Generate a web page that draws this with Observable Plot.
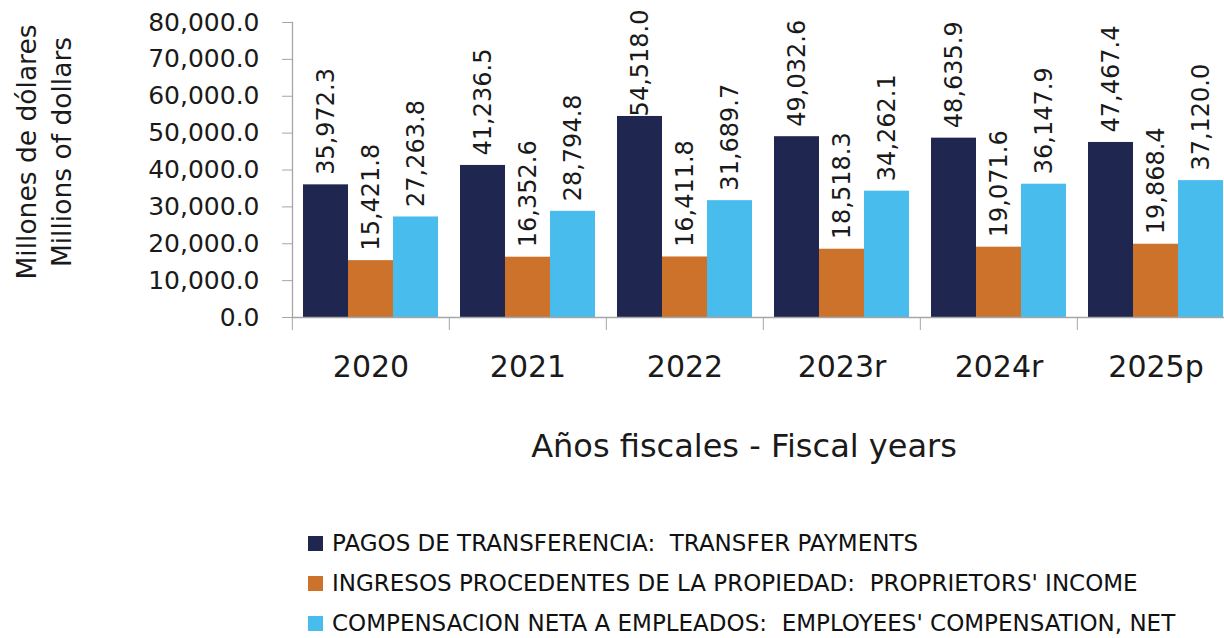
<!DOCTYPE html>
<html>
<head>
<meta charset="utf-8">
<script src="https://cdn.jsdelivr.net/npm/d3@7"></script>
<script src="https://cdn.jsdelivr.net/npm/@observablehq/plot@0.6"></script>
<style>
  html, body { margin: 0; padding: 0; background: #fff; overflow: hidden; }
  #wrap { position: relative; width: 1224px; height: 638px; overflow: hidden; font-family: "DejaVu Sans", sans-serif; color: #1a1a1a; }
  #chart { position: absolute; left: 0; top: 0; width: 1240px; }
  #chart svg { max-width: none !important; }
  #ytitle { position: absolute; left: -106px; top: 117px; width: 300px; height: 70px; line-height: 35px; font-size: 26.5px; text-align: center; transform: rotate(-90deg); transform-origin: 50% 50%; white-space: nowrap; }
  #xtitle { position: absolute; left: 444px; top: 430px; width: 600px; text-align: center; font-size: 32px; line-height: 32px; white-space: nowrap; }
  #legend { position: absolute; left: 308px; top: 523px; }
  .row { height: 40px; line-height: 40px; font-size: 23px; white-space: pre; color: #111; }
  .sw { display: inline-block; width: 15px; height: 15px; margin-right: 9px; vertical-align: baseline; }
</style>
</head>
<body>
<div id="wrap">
  <div id="chart"></div>
  <div id="ytitle">Millones de dólares<br>Millions of dollars</div>
  <div id="xtitle">Años fiscales - Fiscal years</div>
  <div id="legend"></div>
</div>
<script>
// ---- data ----
const years = ["2020", "2021", "2022", "2023r", "2024r", "2025p"];
const series = [
  "PAGOS DE TRANSFERENCIA:  TRANSFER PAYMENTS",
  "INGRESOS PROCEDENTES DE LA PROPIEDAD:  PROPRIETORS' INCOME",
  "COMPENSACION NETA A EMPLEADOS:  EMPLOYEES' COMPENSATION, NET"
];
const transferPayments = [35972.3, 41236.5, 54518.0, 49032.6, 48635.9, 47467.4];
const proprietorsIncome = [15421.8, 16352.6, 16411.8, 18518.3, 19071.6, 19868.4];
const employeesCompensation = [27263.8, 28794.8, 31689.7, 34262.1, 36147.9, 37120.0];
const yTicks = [0, 10000, 20000, 30000, 40000, 50000, 60000, 70000, 80000];
const colors = ["#1F2751", "#CD722A", "#48BCEC"];

const values = [transferPayments, proprietorsIncome, employeesCompensation];
const data = [];
years.forEach((yr, i) => {
  series.forEach((s, j) => data.push({year: yr, series: s, value: values[j][i]}));
});

const fmt = d3.format(",.1f");
const gray = "#a6a6a6";
const W = 1240, mL = 291, mR = 5;
const halfStep = (W - mL - mR) / years.length / 2;
const labelTopLimit = 54000; // labels of taller bars are pushed inside the frame top

const chart = Plot.plot({
  width: W,
  height: 400,
  marginLeft: mL,
  marginRight: mR,
  marginTop: 22,
  marginBottom: 83,
  style: {fontFamily: "DejaVu Sans, sans-serif", background: "transparent", color: "#1a1a1a", overflow: "visible", maxWidth: "none"},
  fx: {domain: years, padding: 0, label: null},
  x: {domain: series, paddingInner: 0, paddingOuter: 0.21, axis: null},
  y: {domain: [0, 80000]},
  color: {domain: series, range: colors},
  marks: [
    Plot.barY(data, {fx: "year", x: "series", y: "value", fill: "series"}),
    Plot.ruleY([0], {stroke: gray, strokeWidth: 1.3}),
    Plot.frame({anchor: "left", facetAnchor: "left", stroke: gray, strokeWidth: 1.3}),
    Plot.axisY({ticks: yTicks, tickSize: 10, tickPadding: 23, fontSize: 25, tickFormat: fmt, stroke: gray, fill: "#1a1a1a", label: null}),
    Plot.axisFx({anchor: "bottom", tickSize: 13, dx: -halfStep, tickFormat: () => "", stroke: gray, label: null}),
    Plot.axisFx({anchor: "bottom", tickSize: 0, tickPadding: 38, fontSize: 30, fill: "#1a1a1a", label: null}),
    Plot.text(data.filter(d => d.value <= labelTopLimit), {
      fx: "year", x: "series", y: "value", text: d => fmt(d.value),
      rotate: -90, textAnchor: "start", lineAnchor: "middle", dy: -10, fontSize: 24, fill: "#1a1a1a"
    }),
    Plot.text(data.filter(d => d.value > labelTopLimit), {
      fx: "year", x: "series", frameAnchor: "top", text: d => fmt(d.value),
      rotate: -90, textAnchor: "end", lineAnchor: "middle", dy: -13, fontSize: 24, fill: "#1a1a1a"
    })
  ]
});
document.getElementById("chart").appendChild(chart);

const legend = document.getElementById("legend");
series.forEach((s, j) => {
  const row = document.createElement("div");
  row.className = "row";
  const sw = document.createElement("span");
  sw.className = "sw";
  sw.style.background = colors[j];
  row.appendChild(sw);
  row.appendChild(document.createTextNode(s));
  legend.appendChild(row);
});
</script>
</body>
</html>
